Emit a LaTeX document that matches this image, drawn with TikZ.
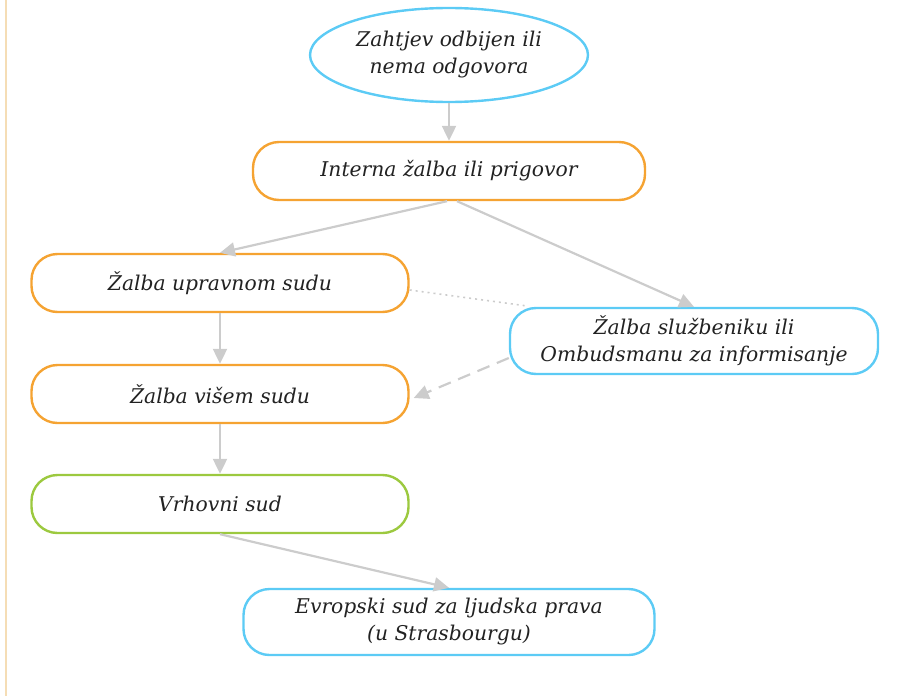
\documentclass[tikz,border=0pt]{standalone}
\usepackage{fontspec}
\setmainfont{DejaVu Serif}
\usetikzlibrary{arrows.meta,shapes}

\definecolor{boxorange}{HTML}{F5A332}
\definecolor{boxblue}{HTML}{5CCBF5}
\definecolor{boxgreen}{HTML}{9CC93F}
\definecolor{linegray}{HTML}{CCCCCC}
\definecolor{margin}{HTML}{F5DDB5}
\definecolor{txt}{HTML}{222222}

\tikzset{
  stepbox/.style={shape=rectangle,rounded corners=26pt,line width=2.4pt,fill=white,
    minimum width=377pt,minimum height=58pt,align=center,text=txt,
    font=\fontsize{20.3}{27}\selectfont\itshape},
  flow/.style={-{Triangle[length=15pt,width=14pt]},draw=linegray,line width=2.2pt}
}

\begin{document}
\begin{tikzpicture}[x=1pt,y=-1pt]
                \useasboundingbox (0,0) rectangle (904,696);
                \draw[margin,line width=1.5pt](6,0)--(6,696);

                \node[shape=ellipse,draw=boxblue,line width=2.4pt,minimum width=278pt,minimum height=94pt,inner sep=0pt,
                  align=center,text=txt,font=\fontsize{20.3}{27}\selectfont\itshape](start)at(449, 55){Zahtjev odbijen ili\\nema odgovora};
                \node[stepbox,draw=boxorange,minimum width=392pt](interna)at(449, 171){Interna žalba ili prigovor};
                \node[stepbox,draw=boxorange](upravni)at(220, 283){Žalba upravnom sudu};
                \node[stepbox,draw=boxblue,minimum width=368pt,minimum height=66pt](ombud)at(694, 341){Žalba službeniku ili\\Ombudsmanu za informisanje};
                \node[stepbox,draw=boxorange](visi)at(220, 394){Žalba višem sudu};
                \node[stepbox,draw=boxgreen](vrhovni)at(220, 504){Vrhovni sud};
                \node[stepbox,draw=boxblue,minimum width=411pt,minimum height=66pt](evropski)at(449, 622){Evropski sud za ljudska prava\\(u Strasbourgu)};

                \draw[flow](start)--(interna);
                \draw[flow]([xshift=-2pt]interna.south)--(upravni.north);
                \draw[flow]([xshift=8pt]interna.south)--(ombud.north);
                \draw[flow](upravni)--(visi);
                \draw[flow](visi)--(vrhovni);
                \draw[flow](vrhovni.south)--(evropski.north);
                \draw[linegray,line width=1.6pt,dash pattern=on 2pt off 4pt]
                ([yshift=-7pt]upravni.east)--([xshift=17pt,yshift=1pt]ombud.north west);
                \draw[flow,dash pattern=on 13pt off 8pt]
                ([yshift=-17pt]ombud.west)--([xshift=4pt,yshift=-4pt]visi.east);
            \end{tikzpicture}
\end{document}
